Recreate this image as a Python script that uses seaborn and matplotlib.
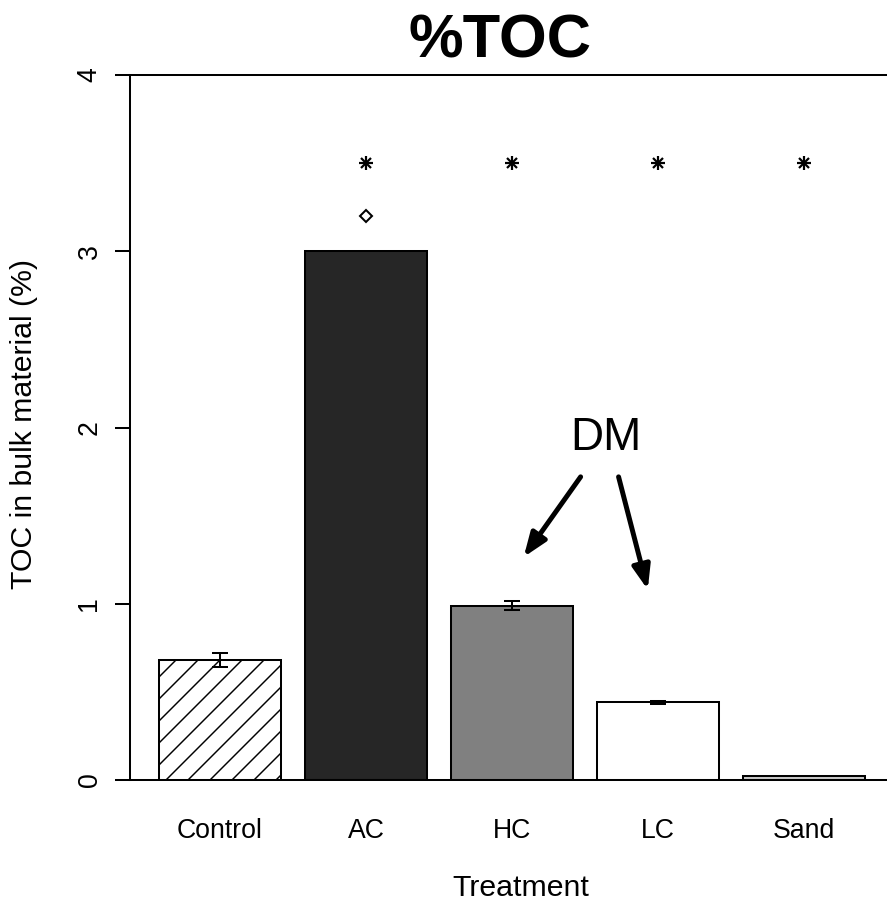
import numpy as np
import pandas as pd
import matplotlib
matplotlib.use("Agg")
import matplotlib.pyplot as plt
import seaborn as sns

# ---- data ----
treatments = ["Control", "AC", "HC", "LC", "Sand"]
toc_mean = [0.68, 3.00, 0.99, 0.44, 0.02]
toc_err = [0.04, 0.0, 0.025, 0.007, 0.0]
bar_colors = ["#ffffff", "#262626", "#808080", "#ffffff", "#c8c8c8"]
sig_treatments = ["AC", "HC", "LC", "Sand"]
sig_y = [3.5, 3.5, 3.5, 3.5]
outlier_treatments = ["AC"]
outlier_y = [3.2]
y_ticks = [0, 1, 2, 3, 4]

sns.set_theme(style="ticks")
plt.rcParams["font.family"] = ["Liberation Sans", "DejaVu Sans"]
plt.rcParams["hatch.linewidth"] = 0.8
for k in ["text.color", "axes.labelcolor", "xtick.color", "ytick.color", "axes.edgecolor"]:
    plt.rcParams[k] = "black"

DPI = 132
W, H = 887, 904
fig = plt.figure(figsize=(W / DPI, H / DPI), dpi=DPI)
ax = fig.add_axes([130 / W, 1 - 780 / H, (894 - 130) / W, (780 - 75) / H])

df = pd.DataFrame({"Treatment": treatments, "TOC": toc_mean})
sns.barplot(data=df, x="Treatment", y="TOC", hue="Treatment",
            palette=bar_colors, order=treatments, hue_order=treatments,
            width=1 / 1.2, edgecolor="black", linewidth=1.1, saturation=1,
            errorbar=None, legend=False, ax=ax)

patches = sorted(ax.patches, key=lambda p: p.get_x())
patches[0].set_hatch("//")

pos = {t: i for i, t in enumerate(treatments)}
err_idx = [i for i, e in enumerate(toc_err) if e > 0]
ax.errorbar(err_idx, [toc_mean[i] for i in err_idx],
            yerr=[toc_err[i] for i in err_idx], fmt="none", ecolor="black",
            elinewidth=1.1, capsize=4.6, capthick=1.1, zorder=5)

sx = [pos[t] for t in sig_treatments]
ax.plot(sx, sig_y, ls="none", marker="+", ms=7.5, mew=1.2, color="black", zorder=5)
ax.plot(sx, sig_y, ls="none", marker="x", ms=5.6, mew=1.2, color="black", zorder=5)
ox = [pos[t] for t in outlier_treatments]
ax.plot(ox, outlier_y, ls="none", marker="D", ms=4.4, mfc="white", mec="black",
        mew=1.1, zorder=5)

ax.set_xlim(-0.6167, 4.6167)
ax.set_ylim(0, 4)
ax.set_yticks(y_ticks)
ax.set_yticklabels([str(v) for v in y_ticks], rotation=90, va="center")
ax.tick_params(axis="y", length=8, width=1.1, pad=7, labelsize=14.5, color="black")
ax.tick_params(axis="x", length=0, pad=21, labelsize=14.5)
for sp in ax.spines.values():
    sp.set_visible(True)
    sp.set_linewidth(1.1)
    sp.set_color("black")
ax.set_xlabel("")
ax.set_ylabel("")

# annotation DM with arrows (data coordinates)
ax.text(2.64, 1.94, "DM", fontsize=25, ha="center", va="center", color="black")
arrow_kw = dict(arrowstyle="-|>,head_length=0.45,head_width=0.17", lw=2.7,
                color="black", mutation_scale=24, shrinkA=0, shrinkB=0)
ax.annotate("", xy=(2.08, 1.265), xytext=(2.47, 1.72), arrowprops=arrow_kw)
ax.annotate("", xy=(2.93, 1.08), xytext=(2.73, 1.72), arrowprops=arrow_kw)

fig.text(500 / W, 1 - 57 / H, "%TOC", fontsize=33.5, fontweight="bold",
         ha="center", va="baseline")
fig.text(521 / W, 2 / H, "Treatment", fontsize=16.5, ha="center", va="bottom")
fig.text(24 / W, 1 - 424 / H, "TOC in bulk material (%)", fontsize=16.5,
         rotation=90, ha="center", va="center")

fig.savefig("out.png", dpi=DPI)
